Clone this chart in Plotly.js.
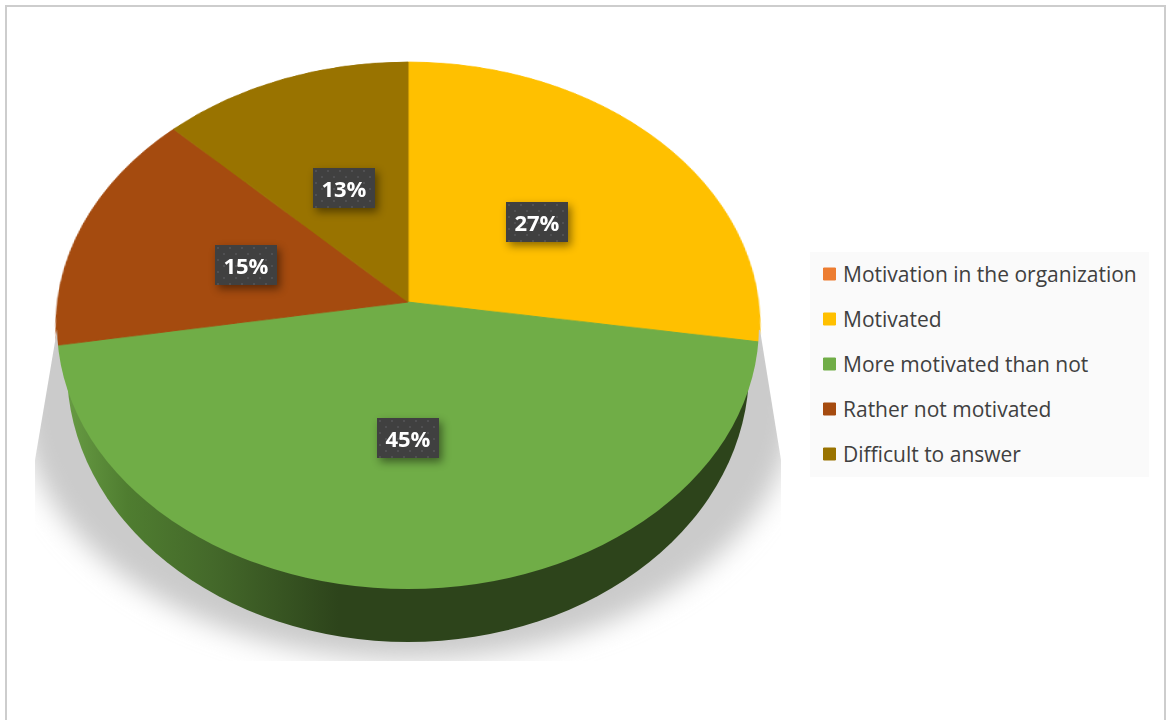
<!DOCTYPE html>
<html>
<head>
<meta charset="utf-8">
<script src="https://cdn.plot.ly/plotly-3.0.1.min.js"></script>
<style>
html,body{margin:0;padding:0;background:#fff;overflow:hidden}
#chart{width:1166px;height:720px}
</style>
</head>
<body>
<div id="chart"></div>
<script>
// Data
const categories = ["Motivation in the organization","Motivated","More motivated than not","Rather not motivated","Difficult to answer"];
const shares = [0, 27.4, 45, 15, 12.6];
const sliceColors = ["#ED7D31","#FFC000","#70AD47","#A54B0F","#997300"];

// Layout only
const W = 1166, H = 720;
const labelCentres = {1:[537,221.5], 2:[408.5,438.5], 3:[245.5,264.5], 4:[344,187.5]};
const pie = {cx:400, cy:360, r:300};
const face = {cx:408, apexY:302, a:350.5, c:234.36, g:-0.0909};
const rim = {cx:408, cy:326, rx:352, ry:264};
const base = {cx:408, cy:370, rx:341, ry:272};

const depthArt = `<svg xmlns="http://www.w3.org/2000/svg" width="${W}" height="${H}" viewBox="0 0 ${W} ${H}">
<defs>
<linearGradient id="wall" gradientUnits="userSpaceOnUse" x1="57" y1="0" x2="760" y2="0">
<stop offset="0" stop-color="#6BA046"/><stop offset="0.1" stop-color="#4F7D30"/>
<stop offset="0.22" stop-color="#44692A"/><stop offset="0.4" stop-color="#2D441B"/><stop offset="1" stop-color="#2D441B"/>
</linearGradient>
<filter id="soft" x="-20%" y="-20%" width="140%" height="140%"><feGaussianBlur stdDeviation="13"/></filter>
<mask id="outsideRim" maskUnits="userSpaceOnUse" x="0" y="0" width="${W}" height="${H}">
<rect width="${W}" height="${H}" fill="#fff"/>
<ellipse cx="${rim.cx}" cy="${rim.cy}" rx="${rim.rx-1}" ry="${rim.ry-1}" fill="#000"/>
</mask>
<clipPath id="shadowBox"><path d="M57 330L35 460V661H781V460L760 330Z"/></clipPath>
</defs>
<g mask="url(#outsideRim)">
<g clip-path="url(#shadowBox)"><ellipse cx="408" cy="400" rx="387" ry="260" fill="#CBCBCB" filter="url(#soft)"/></g>
<ellipse cx="${base.cx}" cy="${base.cy}" rx="${base.rx}" ry="${base.ry}" fill="url(#wall)"/>
</g>
</svg>`;

const total = shares.reduce((s,v)=>s+v,0);
const annotations = shares.map((v,i)=>labelCentres[i] ? {
  xref:"paper", yref:"paper", x:labelCentres[i][0]/W, y:1-labelCentres[i][1]/H,
  xanchor:"center", yanchor:"middle", showarrow:false,
  text:"<b>"+Math.round(v/total*100)+"%</b>",
  font:{family:"Open Sans, sans-serif", size:22, color:"#FFFFFF"},
  bgcolor:"#404040", width:62, height:40, borderpad:0, borderwidth:0
} : null).filter(Boolean);

const frame = {type:"line", xref:"paper", yref:"paper", layer:"above", line:{color:"#CDCDCD", width:2}};
const px = v=>v/W, py = v=>1-v/H;

Plotly.newPlot("chart",[{
  type:"pie", labels:categories, values:shares, sort:false, direction:"clockwise", rotation:0,
  marker:{colors:sliceColors, line:{width:1, color:sliceColors}}, textinfo:"none", hoverinfo:"label+percent",
  domain:{x:[(pie.cx-pie.r)/W,(pie.cx+pie.r)/W], y:[1-(pie.cy+pie.r)/H,1-(pie.cy-pie.r)/H]}
}],{
  width:W, height:H, margin:{l:0,r:0,t:0,b:0,pad:0},
  paper_bgcolor:"rgba(0,0,0,0)", plot_bgcolor:"rgba(0,0,0,0)",
  showlegend:true,
  legend:{x:810/W, y:1-252/H, xanchor:"left", yanchor:"top", bgcolor:"#FAFAFA", borderwidth:0,
    font:{family:"Open Sans, sans-serif", size:21, color:"#404040"}, traceorder:"normal"},
  annotations:annotations,
  images:[{source:"data:image/svg+xml;charset=utf-8,"+encodeURIComponent(depthArt), xref:"paper", yref:"paper",
    x:0, y:1, sizex:1, sizey:1, xanchor:"left", yanchor:"top", sizing:"stretch", layer:"above"}],
  shapes:[
    Object.assign({},frame,{x0:px(6),x1:px(6),y0:py(5),y1:py(720)}),
    Object.assign({},frame,{x0:px(5),x1:px(1166),y0:py(6),y1:py(6)}),
    Object.assign({},frame,{x0:px(1165),x1:px(1165),y0:py(5),y1:py(720)})
  ]
},{displayModeBar:false, responsive:false}).then(gd=>{
  // Tilt the pie's own layer so the circle reads as the perspective disc of the reference.
  const svgs = gd.querySelectorAll(".main-svg");
  const r=pie.r, f=face;
  const m = [
    f.a/r,0,0,0,
    f.cx*f.g/r,f.c/r,0,f.g/r,
    0,0,1,0,
    f.cx-f.a*pie.cx/r-f.cx*f.g*pie.cy/r, f.apexY-f.c*pie.cy/r, 0, 1-f.g*pie.cy/r
  ];
  svgs[0].style.transformOrigin="0 0";
  svgs[0].style.transform="matrix3d("+m.join(",")+")";

  // Legend row spacing and panel size of the reference.
  const legend = gd.querySelector(".legend");
  legend.querySelectorAll(".traces").forEach((t,i)=>t.setAttribute("transform","translate(0,"+(22+45*i)+")"));
  legend.querySelectorAll(".legendtext").forEach(t=>{t.setAttribute("x","33");
    t.querySelectorAll("tspan").forEach(s=>{if(s.getAttribute("x"))s.setAttribute("x","33");});});
  legend.querySelectorAll(".legendpoints").forEach(p=>p.setAttribute("transform","translate(-0.5,0)"));
  const bg = legend.querySelector(".bg");
  bg.setAttribute("width","339"); bg.setAttribute("height","225");
  const sb = legend.querySelector(".scrollbox");
  sb.removeAttribute("clip-path");

  // Dotted label boxes with a soft drop shadow.
  const top = svgs[svgs.length>1?1:0];
  const NS="http://www.w3.org/2000/svg";
  const defs = top.querySelector("defs") || top.insertBefore(document.createElementNS(NS,"defs"),top.firstChild);
  const pat = document.createElementNS(NS,"pattern");
  pat.setAttribute("id","labelDots"); pat.setAttribute("patternUnits","userSpaceOnUse");
  pat.setAttribute("width","12"); pat.setAttribute("height","12");
  pat.innerHTML='<rect width="12" height="12" fill="#404040"/><circle cx="3" cy="3" r="1" fill="#555558"/><circle cx="9" cy="9" r="1" fill="#555558"/>';
  defs.appendChild(pat);
  gd.querySelectorAll(".annotation .bg").forEach(b=>{
    b.style.fill="url(#labelDots)";
    b.style.filter="drop-shadow(3px 4px 4px rgba(0,0,0,0.45))";
  });
});
</script>
</body>
</html>
